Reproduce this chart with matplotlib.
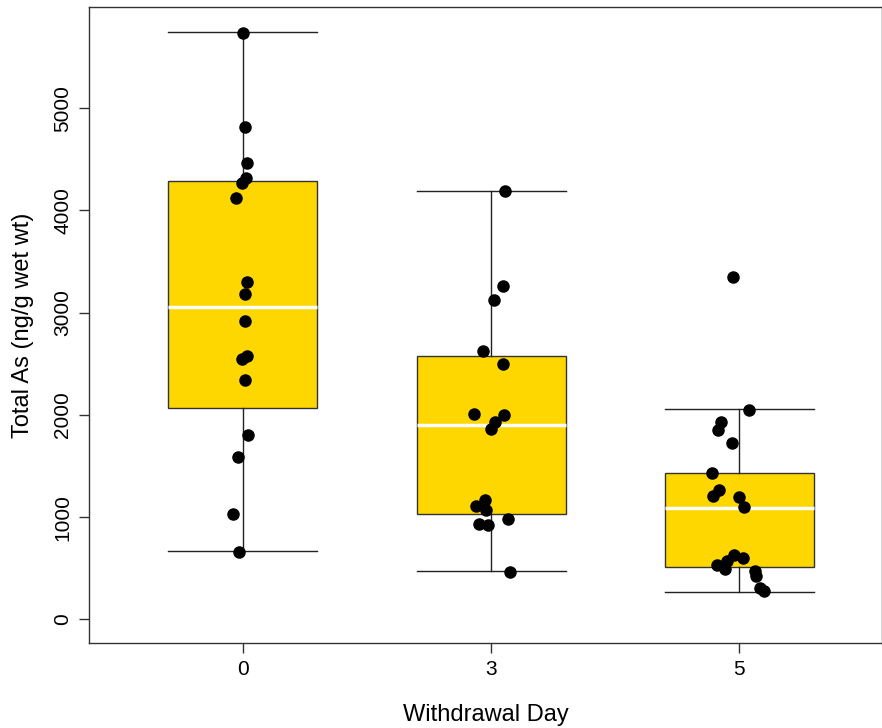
import matplotlib
matplotlib.use("Agg")
import matplotlib.pyplot as plt
import numpy as np

plt.rcParams['font.family'] = ['Liberation Sans', 'DejaVu Sans']

# Withdrawal day groups
days = ["0", "3", "5"]

# Total arsenic per fish (ng/g wet wt)
as_day0 = [5739, 4814, 4466, 4320, 4264, 4118, 3298, 3184, 2917, 2578,
           2549, 2341, 1804, 1592, 1032, 661]
as_day3 = [4186, 3259, 3122, 2627, 2500, 2012, 1999, 1927, 1859, 1165,
           1113, 1074, 986, 938, 925, 466]
as_day5 = [3346, 2048, 1934, 1852, 1729, 1432, 1269, 1204, 1198, 1097,
           635, 602, 570, 530, 495, 474, 430, 309, 276]

# horizontal jitter of each point (fraction of group spacing)
jit_day0 = [0.001, 0.009, 0.017, 0.011, -0.005, -0.027, 0.015, 0.009, 0.009,
            0.017, -0.005, 0.009, 0.021, -0.020, -0.039, -0.015]
jit_day3 = [0.058, 0.050, 0.013, -0.031, 0.046, -0.067, 0.054, 0.015, 0.001,
            -0.025, -0.060, -0.019, 0.070, -0.048, -0.011, 0.078]
jit_day5 = [-0.027, 0.038, -0.075, -0.087, -0.031, -0.110, -0.083, -0.106,
            -0.003, 0.021, -0.023, 0.015, -0.050, -0.090, -0.056, 0.062,
            0.067, 0.085, 0.101]

# box summaries per group
whisker_low = [667, 476, 273]
lower_hinge = [2073, 1032, 514]
medians = [3060, 1898, 1094]
upper_hinge = [4287, 2575, 1432]
whisker_high = [5749, 4193, 2054]

y_ticks = [0, 1000, 2000, 3000, 4000, 5000]

fig = plt.figure(figsize=(8.82, 7.28), dpi=100)
ax = fig.add_axes([89 / 882, 1 - 643 / 728, (882 - 89) / 882, (643 - 7) / 728])

stats = []
for i in range(len(days)):
    stats.append(dict(whislo=whisker_low[i], q1=lower_hinge[i], med=medians[i],
                      q3=upper_hinge[i], whishi=whisker_high[i], fliers=[]))

positions = np.arange(1, len(days) + 1)
ax.bxp(stats, positions=positions, widths=0.6, patch_artist=True,
       showfliers=False,
       boxprops=dict(facecolor="#FFD700", edgecolor="#333333", linewidth=1.0),
       medianprops=dict(color="white", linewidth=2.5),
       whiskerprops=dict(color="#222222", linewidth=1.0),
       capprops=dict(color="#222222", linewidth=1.0),
       capwidths=0.6, zorder=2)

groups = [as_day0, as_day3, as_day5]
jitters = [jit_day0, jit_day3, jit_day5]
for pos, vals, jit in zip(positions, groups, jitters):
    ax.plot(pos + np.array(jit), vals, "o", color="black", markersize=8,
            zorder=4, linestyle="none")

ax.set_xlim(0.38, 3.575)
ax.set_ylim(-230, 5990)
ax.set_xticks(positions)
ax.set_xticklabels(days)
ax.set_yticks(y_ticks)
ax.set_yticklabels([str(t) for t in y_ticks], rotation=90, va="center")

ax.tick_params(axis="both", labelsize=15, length=7, width=1, color="#333333",
               pad=5)
for sp in ax.spines.values():
    sp.set_linewidth(1.0)
    sp.set_color("#333333")

ax.set_xlabel("Withdrawal Day", fontsize=17, labelpad=18)
ax.set_ylabel("Total As (ng/g wet wt)", fontsize=17, labelpad=14)

fig.savefig("out.png", dpi=100)
